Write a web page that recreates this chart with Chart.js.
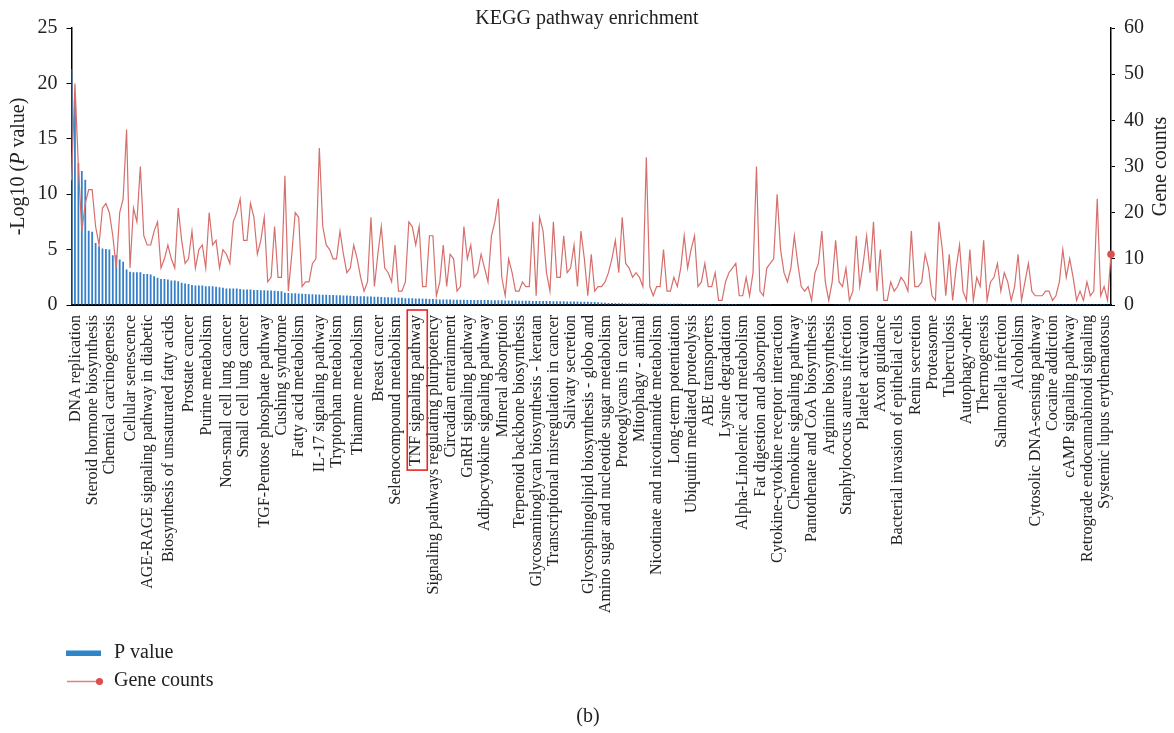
<!DOCTYPE html>
<html>
<head>
<meta charset="utf-8">
<title>KEGG pathway enrichment</title>
<script src="https://cdn.jsdelivr.net/npm/chart.js@4.4.1/dist/chart.umd.min.js"></script>
<style>
  body { margin: 0; background: #fff; }
  #wrap { width: 1174px; height: 733px; }
</style>
</head>
<body>
<div id="wrap"><canvas id="kegg" width="1174" height="733"></canvas></div>
<script>
// visible pathway names on the x axis (Excel only printed every ~5th one)
const pathwayNames = [
  'DNA replication', 'Steroid hormone biosynthesis', 'Chemical carcinogenesis', 'Cellular senescence',
  'AGE-RAGE signaling pathway in diabetic', 'Biosynthesis of unsaturated fatty acids', 'Prostate cancer',
  'Purine metabolism', 'Non-small cell lung cancer', 'Small cell lung cancer', 'TGF-Pentose phosphate pathway',
  'Cushing syndrome', 'Fatty acid metabolism', 'IL-17 signaling pathway', 'Tryptophan metabolism',
  'Thiamme metabolism', 'Breast cancer', 'Selenocompound metabolism', 'TNF signaling pathway',
  'Signaling pathways regulating pluripotency', 'Circadian entrainment', 'GnRH signaling pathway',
  'Adipocytokine signaling pathway', 'Mineral absorption', 'Terpenoid backbone biosynthesis',
  'Glycosaminoglycan biosynthesis - keratan', 'Transcriptional misregulation in cancer', 'Salivaty secretion',
  'Glycosphingolipid biosynthesis - globo and', 'Amino sugar and nucleotide sugar metabolism',
  'Proteoglycans in cancer', 'Mitophagy - animal', 'Nicotinate and nicotinamide metabolism',
  'Long-term potentiation', 'Ubiquitin mediated proteolysis', 'ABE transporters', 'Lysine degradation',
  'Alpha-Linolenic acid metabolism', 'Fat digestion and absorption', 'Cytokine-cytokine receptor interaction',
  'Chemokine signaling pathway', 'Pantothenate and CoA biosynthesis', 'Arginine biosynthesis',
  'Staphylococus aureus infection', 'Platelet activation', 'Axon guidance',
  'Bacterial invasion of epithelial cells', 'Renin secretion', 'Proteasome', 'Tuberculosis',
  'Autophagy-other', 'Thermogenesis', 'Salmonella infection', 'Alcoholism',
  'Cytosolic DNA-sensing pathway', 'Cocaine addiction', 'cAMP signaling pathway',
  'Retrograde endocannabinoid signaling', 'Systemic lupus erythematosus'
];
// category number of each printed name
const nameSlots = [0, 5, 10, 16, 21, 27, 33, 38, 44, 49, 55, 60, 65, 71, 76, 82, 88, 93, 99, 104,
  109, 114, 119, 124, 129, 134, 139, 144, 149, 154, 159, 164, 169, 174, 179, 184, 189, 194, 199, 204,
  209, 214, 219, 224, 229, 234, 239, 244, 249, 254, 259, 264, 269, 274, 279, 284, 289, 294, 299];

// -log10(P value), sorted
const pValues = [
  21.3, 18.5, 12.8, 12.1, 11.3, 6.7, 6.6, 5.6, 5.3, 5.1,
  5.05, 5.0, 4.5, 4.5, 4.1, 3.9, 3.2, 3.0, 2.95, 2.95,
  2.95, 2.8, 2.8, 2.75, 2.6, 2.45, 2.35, 2.35, 2.3, 2.2,
  2.2, 2.15, 2.0, 1.95, 1.9, 1.8, 1.75, 1.75, 1.75, 1.7,
  1.7, 1.7, 1.65, 1.6, 1.55, 1.5, 1.5, 1.5, 1.5, 1.45,
  1.4, 1.4, 1.4, 1.35, 1.35, 1.33, 1.32, 1.3, 1.3, 1.28,
  1.26, 1.24, 1.1, 1.08, 1.06, 1.05, 1.04, 1.02, 1.0, 0.98,
  0.96, 0.95, 0.94, 0.93, 0.92, 0.91, 0.9, 0.88, 0.87, 0.86,
  0.85, 0.84, 0.82, 0.8, 0.79, 0.78, 0.77, 0.76, 0.75, 0.74,
  0.72, 0.71, 0.7, 0.68, 0.67, 0.66, 0.65, 0.62, 0.61, 0.6,
  0.59, 0.58, 0.57, 0.56, 0.55, 0.54, 0.53, 0.5, 0.5, 0.49,
  0.49, 0.48, 0.48, 0.47, 0.47, 0.46, 0.46, 0.46, 0.45, 0.45,
  0.44, 0.44, 0.43, 0.43, 0.42, 0.42, 0.41, 0.41, 0.4, 0.4,
  0.39, 0.39, 0.38, 0.38, 0.37, 0.37, 0.36, 0.36, 0.35, 0.35,
  0.34, 0.34, 0.33, 0.33, 0.32, 0.32, 0.31, 0.31, 0.3, 0.3,
  0.29, 0.28, 0.27, 0.25, 0.23, 0.21, 0.19, 0.17, 0.16, 0.15,
  0.15, 0.14, 0.14, 0.14, 0.13, 0.13, 0.13, 0.13, 0.12, 0.12,
  0.12, 0.12, 0.12, 0.11, 0.11, 0.11, 0.11, 0.11, 0.1, 0.1,
  0.1, 0.1, 0.1, 0.1, 0.09, 0.09, 0.09, 0.09, 0.09, 0.08,
  0.08, 0.08, 0.08, 0.08, 0.07, 0.07, 0.07, 0.07, 0.07, 0.06,
  0.06, 0.06, 0.06, 0.06, 0.05, 0.05, 0.05, 0.05, 0.05, 0.04,
  0.04, 0.04, 0.04, 0.04, 0.04, 0.04, 0.04, 0.04, 0.04, 0.04,
  0.04, 0.04, 0.03, 0.03, 0.03, 0.03, 0.03, 0.03, 0.03, 0.03,
  0.03, 0.03, 0.03, 0.03, 0.03, 0.03, 0.03, 0.03, 0.03, 0.03,
  0.03, 0.03, 0.03, 0.03, 0.02, 0.02, 0.02, 0.02, 0.02, 0.02,
  0.02, 0.02, 0.02, 0.02, 0.02, 0.02, 0.02, 0.02, 0.02, 0.02,
  0.02, 0.02, 0.02, 0.02, 0.02, 0.02, 0.02, 0.02, 0.02, 0.02,
  0.02, 0.02, 0.01, 0.01, 0.01, 0.01, 0.01, 0.01, 0.01, 0.01,
  0.01, 0.01, 0.01, 0.01, 0.01, 0.01, 0.01, 0.01, 0.01, 0.01,
  0.01, 0.01, 0.01, 0.01, 0.01, 0.01, 0.01, 0.01, 0.01, 0.01,
  0.01, 0.01, 0.01
];

// number of genes in each pathway
const geneCounts = [
  27, 48, 30, 16, 22, 25, 25, 17, 13, 21,
  22, 20, 15, 8, 20, 23, 38, 8, 21, 18,
  30, 15, 13, 13, 16, 18, 8, 10, 13, 10,
  8, 21, 14, 9, 10, 16, 8, 12, 13, 8,
  20, 13, 14, 8, 12, 11, 9, 18, 20, 23,
  14, 14, 22, 19, 11, 14, 19, 5, 6, 17,
  6, 6, 28, 3, 11, 20, 19, 4, 5, 5,
  9, 10, 34, 17, 13, 12, 10, 10, 16, 11,
  7, 8, 13, 10, 6, 3, 5, 19, 4, 11,
  17, 8, 7, 5, 13, 3, 3, 5, 18, 17,
  13, 17, 4, 4, 15, 15, 2, 5, 13, 4,
  11, 10, 3, 4, 17, 10, 13, 6, 7, 11,
  8, 5, 15, 18, 23, 6, 2, 10, 7, 3,
  3, 5, 4, 4, 18, 2, 19, 16, 7, 3,
  18, 6, 6, 15, 7, 8, 13, 4, 16, 10,
  2, 11, 3, 4, 4, 5, 7, 10, 14, 7,
  19, 9, 8, 6, 7, 6, 4, 32, 4, 2,
  4, 4, 12, 3, 3, 6, 4, 8, 15, 8,
  12, 15, 4, 5, 9, 4, 4, 7, 1, 1,
  5, 7, 8, 9, 2, 2, 6, 2, 7, 30,
  3, 2, 8, 9, 10, 24, 12, 7, 5, 8,
  15, 9, 4, 3, 4, 1, 7, 9, 16, 5,
  1, 5, 14, 5, 4, 8, 1, 3, 15, 4,
  9, 15, 7, 18, 3, 12, 1, 1, 5, 3,
  4, 6, 5, 3, 16, 4, 4, 5, 11, 8,
  2, 1, 18, 12, 2, 11, 1, 8, 13, 3,
  1, 12, 1, 6, 4, 14, 1, 5, 6, 9,
  3, 7, 5, 1, 4, 11, 1, 5, 9, 3,
  2, 2, 2, 3, 3, 1, 2, 5, 12, 6,
  10, 6, 1, 3, 1, 5, 2, 3, 23, 2,
  4, 1, 11
];

const yLeftTicks = [0, 5, 10, 15, 20, 25];
const yRightTicks = [0, 10, 20, 30, 40, 50, 60];

// one slot per pathway, unnamed ones stay blank like in the figure
let categories = [];
for (let i = 0; i < geneCounts.length; i++) {
    let k = nameSlots.indexOf(i);
    categories.push(k >= 0 ? pathwayNames[k] : '');
}

const serif = "'Liberation Serif', 'DejaVu Serif', serif";
Chart.defaults.font.family = serif;
Chart.defaults.color = '#222';

const BAR_BLUE = '#3580c8';
const LINE_RED = '#d66f6c';
const DOT_RED = '#dc4f4f';

const extras = {
    id: 'extras',
    afterDraw(chart) {
        const ctx = chart.ctx;
        const area = chart.chartArea;
        const midY = (area.top + area.bottom) / 2;
        ctx.save();
        ctx.fillStyle = '#222';
        ctx.textBaseline = 'middle';

        // left title, P in italics
        const parts = [['-Log10 (', ''], ['P', 'italic '], [' value)', '']];
        let total = 0;
        for (let p of parts) {
            ctx.font = p[1] + '20px ' + serif;
            total += ctx.measureText(p[0]).width;
        }
        ctx.save();
        ctx.translate(18.5, midY);
        ctx.rotate(-Math.PI / 2);
        ctx.textAlign = 'left';
        let x = -total / 2;
        for (let p of parts) {
            ctx.font = p[1] + '20px ' + serif;
            ctx.fillText(p[0], x, 0);
            x += ctx.measureText(p[0]).width;
        }
        ctx.restore();

        // right title
        ctx.save();
        ctx.translate(1161, midY);
        ctx.rotate(-Math.PI / 2);
        ctx.textAlign = 'center';
        ctx.font = '20px ' + serif;
        ctx.fillText('Gene counts', 0, 0);
        ctx.restore();

        // red box around TNF label
        const tnf = categories.indexOf('TNF signaling pathway');
        const tx = chart.scales.x.getPixelForTick(tnf);
        ctx.font = '16px ' + serif;
        const tw = ctx.measureText(categories[tnf]).width;
        ctx.strokeStyle = '#e8251f';
        ctx.lineWidth = 1.6;
        ctx.strokeRect(tx - 5, area.bottom + 5, 20, tw + 9);

        // legend, stacked
        const ds = chart.data.datasets;
        ctx.font = '20px ' + serif;
        ctx.textAlign = 'left';
        ctx.fillStyle = '#2e86c8';
        ctx.fillRect(66, 650.5, 35, 5.5);
        ctx.fillStyle = '#222';
        ctx.fillText(ds[1].label, 114, 653);
        ctx.strokeStyle = '#e48080';
        ctx.lineWidth = 1.5;
        ctx.beginPath();
        ctx.moveTo(67, 681.5);
        ctx.lineTo(99, 681.5);
        ctx.stroke();
        ctx.fillStyle = DOT_RED;
        ctx.beginPath();
        ctx.arc(99.5, 681.5, 3.6, 0, Math.PI * 2);
        ctx.fill();
        ctx.fillStyle = '#222';
        ctx.fillText(ds[0].label, 114, 681);

        // panel letter
        ctx.textAlign = 'center';
        ctx.fillText('(b)', 588, 717);
        ctx.restore();
    }
};

const myChart = new Chart(document.getElementById('kegg'), {
    type: 'bar',
    data: {
        labels: categories,
        datasets: [
            {
                type: 'line',
                label: 'Gene counts',
                data: geneCounts,
                yAxisID: 'y1',
                borderColor: LINE_RED,
                borderWidth: 1.2,
                pointRadius: (c) => c.dataIndex === geneCounts.length - 1 ? 3.8 : 0,
                pointBackgroundColor: DOT_RED,
                pointBorderWidth: 0,
                tension: 0,
                clip: false,
                order: 0
            },
            {
                label: 'P value',
                data: pValues,
                yAxisID: 'y',
                backgroundColor: BAR_BLUE,
                barPercentage: 0.52,
                categoryPercentage: 1,
                order: 1
            }
        ]
    },
    options: {
        responsive: false,
        animation: false,
        devicePixelRatio: 1,
        layout: { padding: { left: 0, right: 0, top: 0, bottom: 0 } },
        plugins: {
            legend: { display: false },
            tooltip: { enabled: false },
            title: {
                display: true,
                text: 'KEGG pathway enrichment',
                font: { size: 20, weight: 'normal', lineHeight: 0.9 },
                color: '#222',
                padding: { top: 10, bottom: 0 }
            }
        },
        scales: {
            x: {
                offset: false,
                grid: { display: false },
                border: { display: true, color: '#000', width: 2 },
                ticks: {
                    autoSkip: false,
                    maxRotation: 90,
                    minRotation: 90,
                    padding: 2,
                    labelOffset: 4,
                    font: { size: 16 },
                    color: '#222'
                },
                afterFit: (s) => { s.height = 428; }
            },
            y: {
                position: 'left',
                min: 0,
                max: 25,
                afterBuildTicks: (s) => { s.ticks = yLeftTicks.map(v => ({ value: v })); },
                ticks: { padding: 9, font: { size: 20 }, color: '#222' },
                grid: { drawOnChartArea: false, tickLength: 5, color: '#000' },
                border: { display: true, color: '#000', width: 1.5 },
                afterFit: (s) => { s.width = 71.5; }
            },
            y1: {
                position: 'right',
                min: 0,
                max: 60,
                afterBuildTicks: (s) => { s.ticks = yRightTicks.map(v => ({ value: v })); },
                ticks: { padding: 9, font: { size: 20 }, color: '#222' },
                grid: { drawOnChartArea: false, tickLength: 4, color: '#000' },
                border: { display: true, color: '#000', width: 1.5 },
                afterFit: (s) => { s.width = 63; }
            }
        }
    },
    plugins: [extras]
});
console.log(myChart.chartArea);
</script>
</body>
</html>
